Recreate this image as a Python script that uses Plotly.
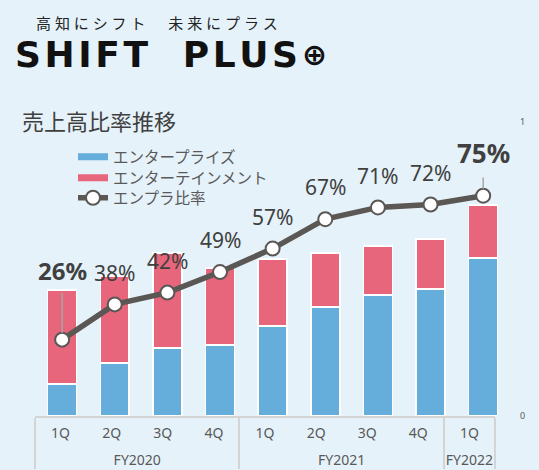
import plotly.graph_objects as go

# ---- data ----
fiscal_years = ["FY2020", "FY2020", "FY2020", "FY2020",
                "FY2021", "FY2021", "FY2021", "FY2021", "FY2022"]
quarters = ["1Q", "2Q", "3Q", "4Q", "1Q", "2Q", "3Q", "4Q", "1Q"]
enterprise = [32, 53, 68, 71, 90, 109, 121, 127, 158]
entertainment = [94, 87, 95, 77, 67, 54, 49, 50, 53]
ratio = [0.26, 0.38, 0.42, 0.49, 0.57, 0.67, 0.71, 0.72, 0.75]
ratio_labels = ["26%", "38%", "42%", "49%", "57%", "67%", "71%", "72%", "75%"]
highlighted = [True, False, False, False, False, False, False, False, True]

series_names = ["エンタープライズ", "エンターテインメント", "エンプラ比率"]
title_text = "売上高比率推移"
tagline = "高知にシフト　未来にプラス"
brand = "SHIFT PLUS"

BG = "#e5f2f9"
BLUE = "#65addb"
PINK = "#e8667c"
LINE = "#5b5755"
TXT = "#404040"
GRAY = "#595959"
FONT = "Noto Sans, Noto Sans CJK JP, sans-serif"

cats = [f"{fy} {q}" for fy, q in zip(fiscal_years, quarters)]
n = len(cats)

W, H = 539, 470
VA, VB = 0.973, 5.7  # observed vertical mapping of the page capture


def px(x):
    return x / W


def py(t):
    return (H - (t - VB) / VA) / H


def dpy(d):
    return d / VA


fig = go.Figure()

fig.add_trace(go.Bar(x=cats, y=enterprise, marker=dict(color=BLUE, line=dict(color="white", width=1.5)),
                     showlegend=False, hoverinfo="skip", xaxis="x", yaxis="y"))
fig.add_trace(go.Bar(x=cats, y=entertainment, marker=dict(color=PINK, line=dict(color="white", width=1.5)),
                     showlegend=False, hoverinfo="skip", xaxis="x", yaxis="y"))

fig.add_trace(go.Scatter(x=[None], y=[None], mode="lines", line=dict(color=BLUE, width=7),
                         name=series_names[0], legend="legend", xaxis="x", yaxis="y"))
fig.add_trace(go.Scatter(x=[None], y=[None], mode="lines", line=dict(color=PINK, width=7),
                         name=series_names[1], legend="legend2", xaxis="x", yaxis="y"))

fig.add_trace(go.Scatter(x=cats, y=ratio, mode="lines+markers", name=series_names[2],
                         legend="legend3",
                         line=dict(color=LINE, width=5.5),
                         marker=dict(size=14, color="white", line=dict(color=LINE, width=2)),
                         hoverinfo="skip", xaxis="x", yaxis="y2"))

# two-level category labels (a taller invisible space widens the first label row)
pad = "<span style='font-size:21px'>\u00a0</span>"
quarter_labels = [pad + q + pad for q in quarters]
fig.add_trace(go.Scatter(x=[fiscal_years, quarter_labels], y=[0] * n, mode="markers",
                         marker=dict(opacity=0, size=1), showlegend=False, hoverinfo="skip",
                         xaxis="x2", yaxis="y"))

annotations = []
for c, r, lab, hl in zip(cats, ratio, ratio_labels, highlighted):
    if hl:
        big = lab == ratio_labels[-1]
        annotations.append(dict(
            x=c, y=r, xref="x", yref="y2", text=f"<b>{lab}</b>",
            showarrow=True, arrowhead=0, arrowwidth=1.5, arrowcolor="#a6a6a6",
            ax=0, ay=-dpy(41.5 if big else 67), standoff=7, startstandoff=5 if big else 4,
            font=dict(family=FONT, size=26 if big else 24, color=TXT)))
    else:
        annotations.append(dict(
            x=c, y=r, xref="x", yref="y2", text=lab, showarrow=False,
            xanchor="center", yanchor="middle", yshift=dpy(31),
            font=dict(family=FONT, size=21, color=TXT)))

annotations += [
    dict(x=px(20), y=py(120), xref="paper", yref="paper", text=title_text, showarrow=False,
         xanchor="left", yanchor="middle", font=dict(family=FONT, size=22, color=TXT)),
    dict(x=px(34), y=py(22), xref="paper", yref="paper", text=" ".join(tagline), showarrow=False,
         xanchor="left", yanchor="middle", font=dict(family=FONT, size=15, color="#222222")),
    dict(x=px(13), y=py(53), xref="paper", yref="paper",
         text="<b>" + "\u200a".join(brand.replace(" ", "\u2002\u2006")) + "</b>", showarrow=False,
         xanchor="left", yanchor="middle", font=dict(family="DejaVu Sans", size=36, color="#111111")),
    dict(x=px(314), y=py(53), xref="paper", yref="paper", text="<b>⊕</b>", showarrow=False,
         xanchor="center", yanchor="middle", font=dict(family="DejaVu Sans", size=30, color="#111111")),
]

y_bottom = py(415)
y_top = py(121)

legend_common = dict(x=px(73), xanchor="left", yanchor="middle", bgcolor="rgba(0,0,0,0)",
                     font=dict(family=FONT, size=15.5, color=GRAY), itemwidth=30)

fig.update_layout(
    width=W, height=H, autosize=False,
    margin=dict(l=0, r=0, t=0, b=0),
    paper_bgcolor=BG, plot_bgcolor="rgba(0,0,0,0)",
    barmode="stack", bargap=0.45,
    font=dict(family=FONT, color=GRAY),
    showlegend=True,
    legend=dict(y=py(156), **legend_common),
    legend2=dict(y=py(177), **legend_common),
    legend3=dict(y=py(197), **legend_common),
    xaxis=dict(domain=[px(35.8), px(509.5)], type="category", categoryorder="array",
               categoryarray=cats, range=[-0.5, n - 0.5], showticklabels=False, showline=False,
               showgrid=False, zeroline=False, ticks="", anchor="y"),
    xaxis2=dict(domain=[px(35), px(495)], type="multicategory", anchor="y", range=[-0.5, n - 0.5],
                showline=True, linecolor="#d4d4d4", linewidth=1.5,
                showdividers=True, dividercolor="#d4d4d4", dividerwidth=1.5,
                showgrid=False, zeroline=False, ticks="", ticklabelstandoff=3,
                tickfont=dict(family=FONT, size=14, color=GRAY)),
    yaxis=dict(domain=[y_bottom, y_top], range=[0, 294], visible=False, anchor="x", fixedrange=True),
    yaxis2=dict(domain=[y_bottom, y_top], range=[0, 1], overlaying="y", side="right",
                anchor="free", position=px(519), tickvals=[0, 1], ticktext=["0", "1"],
                showgrid=False, zeroline=False, showline=False, ticks="",
                tickfont=dict(family=FONT, size=9, color=GRAY)),
    annotations=annotations,
)

fig.write_html("out.html", config={"displayModeBar": False},
               post_script="document.body.style.margin='0';document.body.style.background='%s';" % BG)
